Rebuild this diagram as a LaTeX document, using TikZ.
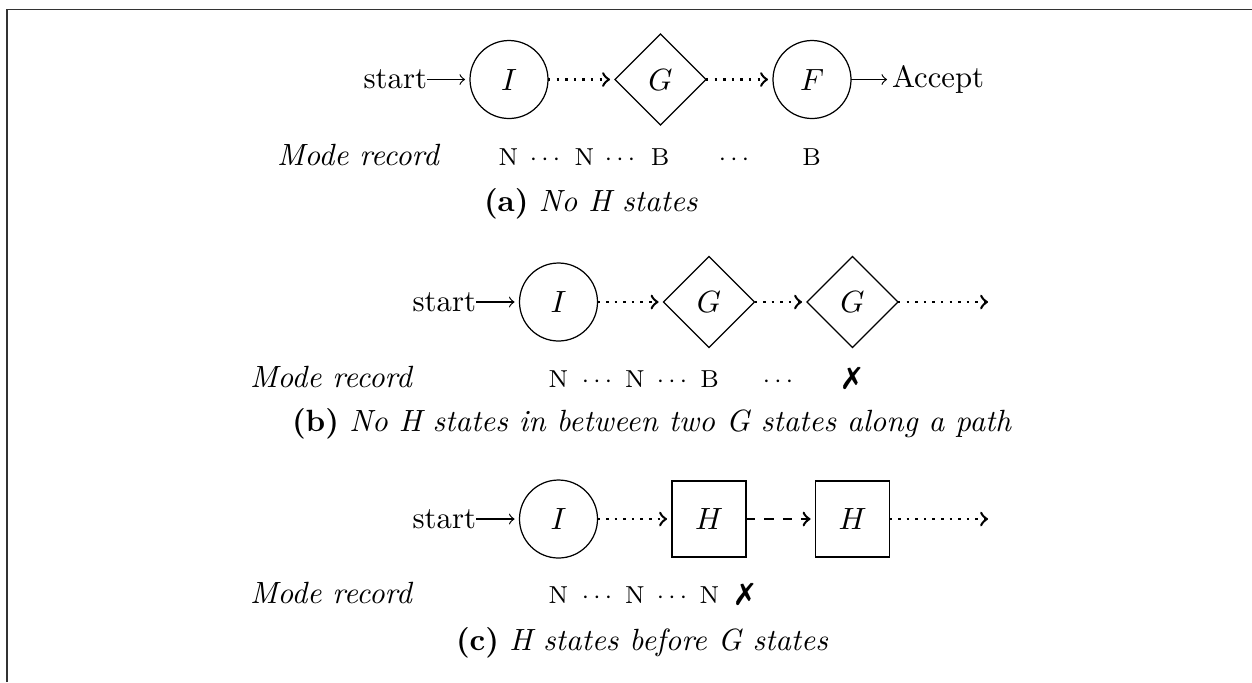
\documentclass[tikz,border=0pt]{standalone}
\usepackage{pifont}
\usetikzlibrary{shapes.geometric}
\begin{document}
\begin{tikzpicture}[x=0.3257pt,y=-0.3257pt,
  every node/.style={inner sep=0pt,outer sep=0pt},
  statec/.style={draw,thin,circle,minimum size=78*0.3257pt},
  stated/.style={draw,thin,diamond,shape aspect=1,minimum width=91*0.3257pt,minimum height=91*0.3257pt},
  stateh/.style={draw,thin,rectangle,minimum width=74*0.3257pt,minimum height=76*0.3257pt},
  lbl/.style={anchor=west},
  rec/.style={anchor=base,font=\footnotesize},
  modetxt/.style={anchor=base west,font=\itshape},
  captxt/.style={anchor=base west},
  solidarr/.style={->,thin,shorten >=1.6pt},
  dotarr/.style={->,thick,dotted,shorten >=1.6pt},
  dasharr/.style={->,thick,dashed,shorten >=1.6pt}]
\useasboundingbox (0,0) rectangle (1252,682);
\draw[line width=0.6pt,black!80] (7,682) -- (7,9.5) -- (1252,9.5);

% ---- (a)
\node[anchor=east] (sa) at (427,79.5) {start};
\node[statec] (Ia) at (509,79.5) {$I$};
\node[stated] (Ga) at (660.5,79.5) {$G$};
\node[statec] (Fa) at (812,79.5) {$F$};
\node[lbl] (acc) at (892,79.5) {Accept};
\draw[solidarr] (sa) -- (Ia);
\draw[dotarr] (Ia) -- (Ga);
\draw[dotarr] (Ga) -- (Fa);
\draw[solidarr] (Fa) -- (acc);
\node[modetxt] (ma) at (277,165) {Mode record};
\node[rec] (a1) at (508.5,165) {N};
\node[rec] (a2) at (545,165) {$\cdots$};
\node[rec] (a3) at (584.5,165) {N};
\node[rec] (a4) at (620,165) {$\cdots$};
\node[rec] (a5) at (660,165) {B};
\node[rec] (a6) at (734,165) {$\cdots$};
\node[rec] (a7) at (811.5,165) {B};
\node[captxt] (ca) at (484,211) {\textbf{(a)} \textit{No H states}};

% ---- (b)
\node[anchor=east] (sb) at (476,302) {start};
\node[statec] (Ib) at (558.5,302) {$I$};
\node[stated] (Gb1) at (709,302) {$G$};
\node[stated] (Gb2) at (852.5,302) {$G$};
\coordinate (eb) at (993,302);
\draw[solidarr] (sb) -- (Ib);
\draw[dotarr] (Ib) -- (Gb1);
\draw[dotarr] (Gb1) -- (Gb2);
\draw[dotarr] (Gb2) -- (eb);
\node[modetxt] (mb) at (250,387) {Mode record};
\node[rec] (b1) at (558.5,387) {N};
\node[rec] (b2) at (597,387) {$\cdots$};
\node[rec] (b3) at (635,387) {N};
\node[rec] (b4) at (672,387) {$\cdots$};
\node[rec] (b5) at (709.5,387) {B};
\node[rec] (b6) at (778,387) {$\cdots$};
\node[anchor=base] (b7) at (852,387) {\ding{55}};
\node[captxt] (cb) at (292,431) {\textbf{(b)} \textit{No H states in between two G states along a path}};

% ---- (c)
\node[anchor=east] (sc) at (476,519) {start};
\node[statec] (Ic) at (558.5,519) {$I$};
\node[stateh] (Hc1) at (709,519) {$H$};
\node[stateh] (Hc2) at (852.5,519) {$H$};
\coordinate (ec) at (993,519);
\draw[solidarr] (sc) -- (Ic);
\draw[dotarr] (Ic) -- (Hc1);
\draw[dasharr] (Hc1) -- (Hc2);
\draw[dotarr] (Hc2) -- (ec);
\node[modetxt] (mc) at (250,603) {Mode record};
\node[rec] (c1) at (558.5,603) {N};
\node[rec] (c2) at (597,603) {$\cdots$};
\node[rec] (c3) at (635,603) {N};
\node[rec] (c4) at (672,603) {$\cdots$};
\node[rec] (c5) at (709.5,603) {N};
\node[anchor=base] (c6) at (745,603) {\ding{55}};
\node[captxt] (cc) at (456,650) {\textbf{(c)} \textit{H states before G states}};
\end{tikzpicture}
\end{document}
